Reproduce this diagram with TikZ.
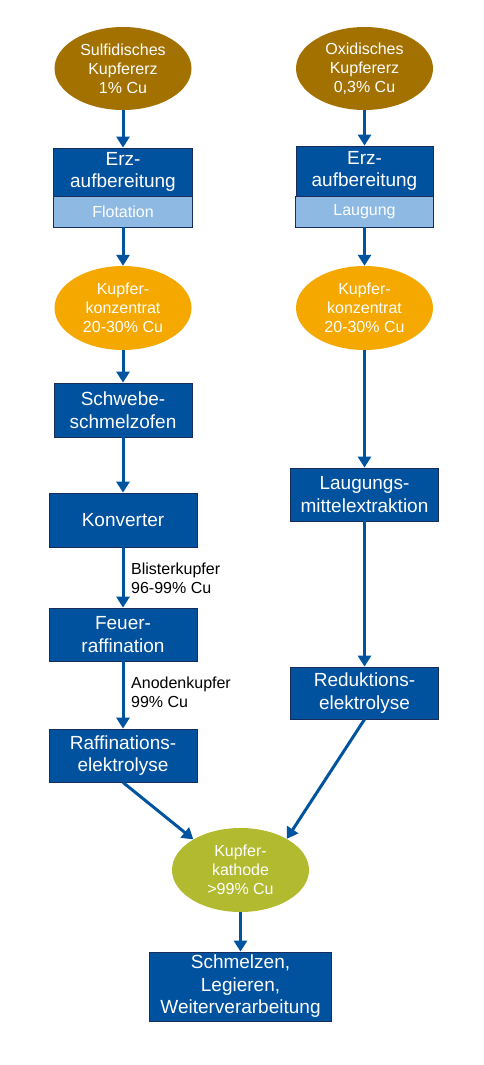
\documentclass[tikz,border=0pt]{standalone}
\usepackage{fontspec}
\setmainfont{Liberation Sans}
\usetikzlibrary{shapes.geometric,arrows.meta}
\definecolor{dblue}{RGB}{0,81,158}
\definecolor{lblue}{RGB}{141,185,227}
\definecolor{bordc}{RGB}{25,45,90}
\definecolor{orebrown}{RGB}{163,113,0}
\definecolor{concorange}{RGB}{245,168,0}
\definecolor{cathgreen}{RGB}{178,187,47}
\definecolor{arrowc}{RGB}{0,84,159}
\tikzset{
  procbox/.style={rectangle, draw=bordc, line width=0.8pt, fill=dblue, text=white,
    align=center, inner sep=0pt, font=\fontsize{19}{22.5}\selectfont},
  subbox/.style={rectangle, draw=bordc, line width=0.8pt, fill=lblue, text=white,
    align=center, inner sep=0pt, font=\fontsize{16}{19}\selectfont},
  matell/.style={ellipse, inner sep=0pt, text=white, align=center,
    font=\fontsize{16}{19}\selectfont},
  flow/.style={draw=arrowc, line width=3pt, -{Triangle[width=13pt,length=11pt]}},
  sidelabel/.style={anchor=west, align=left, inner sep=0pt, text=black,
    font=\fontsize{16}{19}\selectfont}
}
\begin{document}
\begin{tikzpicture}[x=1pt,y=-1pt]
\useasboundingbox (0,0) rectangle (483,1065);
% left column
\node[matell, fill=orebrown, minimum width=137pt, minimum height=83pt] (e1) at (123,68.5) {Sulfidisches\\Kupfererz\\1\% Cu};
\node[procbox, minimum width=139pt, minimum height=48pt] (b1) at (123,172) {Erz-\\aufbereitung};
\node[subbox, minimum width=139pt, minimum height=31pt] (b1s) at (123,211.5) {Flotation};
\node[matell, fill=concorange, minimum width=137pt, minimum height=84pt] (k1) at (123,308) {Kupfer-\\konzentrat\\20-30\% Cu};
\node[procbox, minimum width=138pt, minimum height=54pt] (s) at (123,410) {Schwebe-\\schmelzofen};
\node[procbox, minimum width=148pt, minimum height=54pt] (kon) at (123,520) {Konverter};
\node[procbox, minimum width=148pt, minimum height=53pt] (feu) at (123,634.5) {Feuer-\\raffination};
\node[procbox, minimum width=148pt, minimum height=53pt] (raf) at (123,755.5) {Raffinations-\\elektrolyse};
% right column
\node[matell, fill=orebrown, minimum width=137pt, minimum height=83pt] (e2) at (364.5,68.5) {Oxidisches\\Kupfererz\\0,3\% Cu};
\node[procbox, minimum width=137pt, minimum height=50pt] (b2) at (364.5,171) {Erz-\\aufbereitung};
\node[subbox, minimum width=138pt, minimum height=31pt] (b2s) at (364.5,211.5) {Laugung};
\node[matell, fill=concorange, minimum width=137pt, minimum height=84pt] (k2) at (364.5,308) {Kupfer-\\konzentrat\\20-30\% Cu};
\node[procbox, minimum width=148pt, minimum height=53pt] (lau) at (364.5,494.5) {Laugungs-\\mittelextraktion};
\node[procbox, minimum width=148pt, minimum height=52pt] (red) at (364.5,693) {Reduktions-\\elektrolyse};
% bottom
\node[matell, fill=cathgreen, minimum width=137pt, minimum height=84pt] (kat) at (240.5,870) {Kupfer-\\kathode\\>99\% Cu};
\node[procbox, minimum width=182pt, minimum height=69pt] (fin) at (240.5,986.5) {Schmelzen,\\Legieren,\\Weiterverarbeitung};
% labels
\node[sidelabel] (l1) at (131,578.5) {Blisterkupfer\\96-99\% Cu};
\node[sidelabel] (l2) at (131,692.5) {Anodenkupfer\\99\% Cu};
% arrows
\draw[flow] (e1.south) -- (b1.north);
\draw[flow] (b1s.south) -- (k1.north);
\draw[flow] (k1.south) -- (s.north);
\draw[flow] (s.south) -- (kon.north);
\draw[flow] (kon.south) -- (feu.north);
\draw[flow] (feu.south) -- (raf.north);
\draw[flow] (e2.south) -- (b2.north);
\draw[flow] (b2s.south) -- (k2.north);
\draw[flow] (k2.south) -- (lau.north);
\draw[flow] (lau.south) -- (red.north);
\draw[flow] (raf.south) -- (kat.147);
\draw[flow] (red.south) -- (kat.34);
\draw[flow] (kat.south) -- (fin.north);
\end{tikzpicture}
\end{document}
